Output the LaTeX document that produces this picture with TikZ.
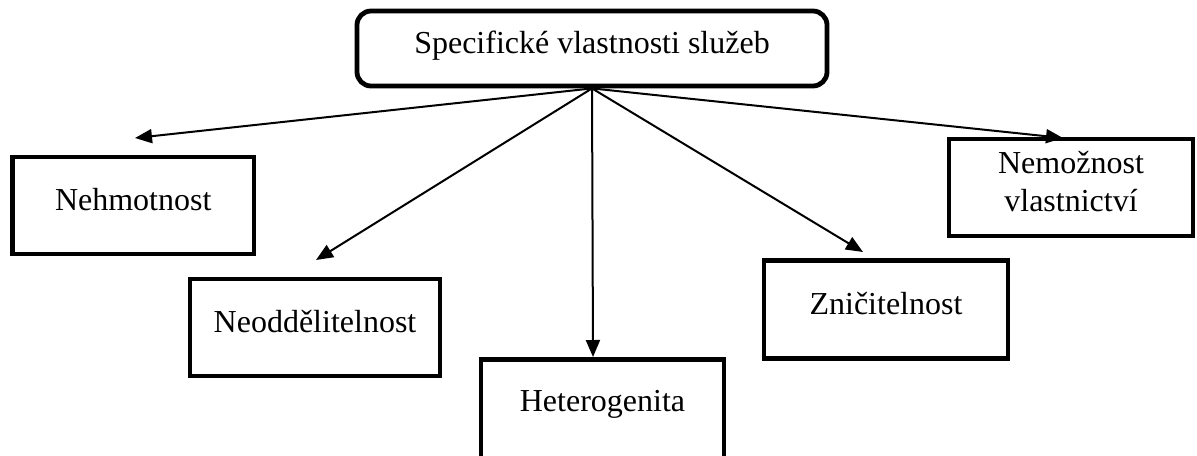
\documentclass[tikz,border=0pt]{standalone}
\usepackage{fontspec}
\setmainfont{Liberation Serif}
\usetikzlibrary{arrows.meta}

\begin{document}
\begin{tikzpicture}[x=0.5pt,y=-0.5pt,
    box/.style={draw,line width=2.4pt,inner sep=0pt,align=center,
      text height=11pt,text depth=6pt,font=\fontsize{16}{19}\selectfont},
    link/.style={line width=1pt,-{Triangle[length=8.5pt,width=7pt]}}]
  \useasboundingbox (0,0) rectangle (1197,455);
  \node[box,rounded corners=7pt,minimum width=235pt,minimum height=37.5pt] (spec) at (592,48.5) {Specifické vlastnosti služeb};
  \node[box,minimum width=120.75pt,minimum height=48.5pt] (neh) at (133.25,205.5) {Nehmotnost};
  \node[box,minimum width=125pt,minimum height=48.5pt] (neo) at (315,327.5) {Neoddělitelnost};
  \node[box,text depth=9.5pt,minimum width=121.5pt,minimum height=50pt] (het) at (602.5,409.5) {Heterogenita};
  \node[box,minimum width=122pt,minimum height=49pt] (zni) at (886,309.5) {Zničitelnost};
  \node[box,text height=30pt,minimum width=122pt,minimum height=48.5pt] (nem) at (1071,187.5) {Nemožnost\\vlastnictví};
  \coordinate (t1) at (135,138);
  \coordinate (t2) at (316,260);
  \coordinate (t3) at (593,357);
  \coordinate (t4) at (863,252);
  \coordinate (t5) at (1063,138);
  \foreach \t in {1,...,5}
    \draw[link] (spec.south) -- (t\t);
\end{tikzpicture}
\end{document}
